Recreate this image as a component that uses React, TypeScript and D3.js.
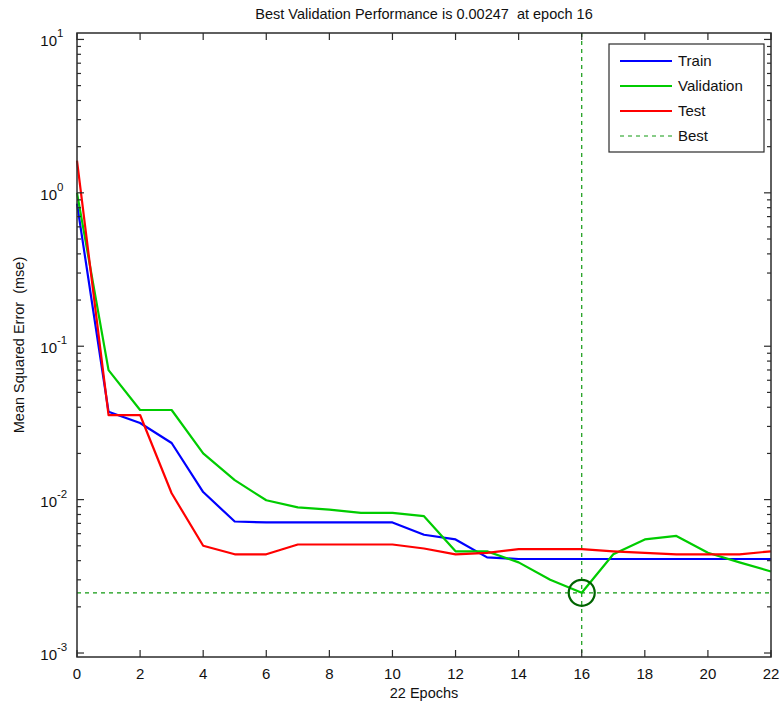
import React from 'react';
import * as d3 from 'd3';

// epochs 0..22
const epochs = d3.range(0, 23);
const trainMse = [0.85, 0.0374, 0.0316, 0.0234, 0.0112, 0.0072, 0.0071, 0.0071, 0.0071, 0.0071, 0.0071,
  0.0059, 0.0055, 0.0042, 0.0041, 0.0041, 0.0041, 0.0041, 0.0041, 0.0041, 0.0041, 0.0041, 0.0041];
const validationMse = [1.0, 0.0698, 0.0384, 0.0384, 0.020, 0.0134, 0.0099, 0.0089, 0.0086, 0.0082, 0.0082,
  0.0078, 0.0046, 0.0046, 0.0039, 0.0030, 0.00247, 0.0044, 0.0055, 0.0058, 0.0045, 0.0039, 0.0034];
const testMse = [1.62, 0.0356, 0.0356, 0.011, 0.0050, 0.0044, 0.0044, 0.0051, 0.0051, 0.0051, 0.0051,
  0.0048, 0.0044, 0.0045, 0.00475, 0.00475, 0.00475, 0.0046, 0.0045, 0.0044, 0.0044, 0.0044, 0.0046];
const bestEpoch = 16;
const bestValue = 0.00247;
const xTicks = [0, 2, 4, 6, 8, 10, 12, 14, 16, 18, 20, 22];
const yDecades = [-3, -2, -1, 0, 1];
const legendItems = ['Train', 'Validation', 'Test', 'Best'];

const W = 783;
const H = 706;
const margin = { left: 77, right: 12, top: 33, bottom: 49 };
const font = '"Liberation Sans", Arial, sans-serif';

const App = () => {
  const x = d3.scaleLinear().domain([0, 22]).range([margin.left, W - margin.right]);
  const y = d3.scaleLog().domain([Math.pow(10, -3.026), Math.pow(10, 1.042)]).range([H - margin.bottom, margin.top]);

  const line = d3.line<number>().x((d, i) => x(epochs[i])).y(d => y(d));

  const series = [
    { name: 'Train', values: trainMse, color: '#0000ff' },
    { name: 'Validation', values: validationMse, color: '#00cc00' },
    { name: 'Test', values: testMse, color: '#ff0000' },
  ];

  // minor ticks on the log axis
  const minor: number[] = [];
  yDecades.forEach(k => {
    for (let m = 2; m <= 9; m++) {
      const v = m * Math.pow(10, k);
      if (v >= y.domain()[0] && v <= y.domain()[1]) minor.push(v);
    }
  });

  const x0 = margin.left;
  const x1 = W - margin.right;
  const y0 = margin.top;
  const y1 = H - margin.bottom;
  const axisColor = '#2b2b2b';
  const textStyle = { whiteSpace: 'pre' as const };

  const legendX = 609;
  const legendY = 44;

  return (
    <div style={{ position: 'absolute', left: 0, top: 0 }}>
      <svg width={W} height={H} style={{ display: 'block', background: '#fff' }}>
        <text x={(x0 + x1) / 2} y={19} textAnchor="middle" fontFamily={font} fontSize={14.5} fill="#111" style={textStyle}>
          {'Best Validation Performance is 0.00247  at epoch 16'}
        </text>

        {/* best lines */}
        <line x1={x0} x2={x1} y1={y(bestValue)} y2={y(bestValue)} stroke="#119911" strokeWidth={1.2} strokeDasharray="4,4" />
        <line x1={x(bestEpoch)} x2={x(bestEpoch)} y1={y0} y2={y1} stroke="#119911" strokeWidth={1.2} strokeDasharray="4,4" />

        {series.map(s => (
          <path key={s.name} d={line(s.values) || ''} fill="none" stroke={s.color} strokeWidth={2.2} strokeLinejoin="round" />
        ))}

        <circle cx={x(bestEpoch)} cy={y(bestValue)} r={13} fill="none" stroke="#006400" strokeWidth={2.2} />

        {/* box */}
        <rect x={x0} y={y0} width={x1 - x0} height={y1 - y0} fill="none" stroke={axisColor} strokeWidth={1.5} />

        {/* x ticks */}
        {xTicks.map(t => (
          <g key={'x' + t}>
            <line x1={x(t)} x2={x(t)} y1={y1} y2={y1 - 7} stroke={axisColor} strokeWidth={1.2} />
            <line x1={x(t)} x2={x(t)} y1={y0} y2={y0 + 7} stroke={axisColor} strokeWidth={1.2} />
            <text x={x(t)} y={y1 + 22} textAnchor="middle" fontFamily={font} fontSize={15} fill="#111">{t}</text>
          </g>
        ))}

        {/* y ticks */}
        {yDecades.map(k => (
          <g key={'y' + k}>
            <line x1={x0} x2={x0 + 7} y1={y(Math.pow(10, k))} y2={y(Math.pow(10, k))} stroke={axisColor} strokeWidth={1.2} />
            <line x1={x1} x2={x1 - 7} y1={y(Math.pow(10, k))} y2={y(Math.pow(10, k))} stroke={axisColor} strokeWidth={1.2} />
            <text x={57} y={y(Math.pow(10, k)) + 7} textAnchor="end" fontFamily={font} fontSize={15} fill="#111">10</text>
            <text x={57} y={y(Math.pow(10, k)) - 2} textAnchor="start" fontFamily={font} fontSize={11.5} fill="#111">{k}</text>
          </g>
        ))}
        {minor.map(v => (
          <g key={'m' + v}>
            <line x1={x0} x2={x0 + 4} y1={y(v)} y2={y(v)} stroke={axisColor} strokeWidth={1.2} />
            <line x1={x1} x2={x1 - 4} y1={y(v)} y2={y(v)} stroke={axisColor} strokeWidth={1.2} />
          </g>
        ))}

        <text x={(x0 + x1) / 2} y={698} textAnchor="middle" fontFamily={font} fontSize={14.5} fill="#111">22 Epochs</text>
        <text transform={`translate(24,${(y0 + y1) / 2}) rotate(-90)`} textAnchor="middle" fontFamily={font} fontSize={14.5} fill="#111" style={textStyle}>
          {'Mean Squared Error  (mse)'}
        </text>

        {/* legend */}
        <rect x={legendX} y={legendY} width={155} height={108} fill="#fff" stroke={axisColor} strokeWidth={1.2} />
        {legendItems.map((name, i) => {
          const ly = legendY + 17 + i * 25;
          const s = series.find(d => d.name === name);
          return (
            <g key={name}>
              <line x1={legendX + 11} x2={legendX + 63} y1={ly} y2={ly}
                stroke={s ? s.color : '#119911'} strokeWidth={s ? 2.2 : 1.2} strokeDasharray={s ? undefined : '4,4'} />
              <text x={legendX + 69} y={ly + 5} fontFamily={font} fontSize={15} fill="#111">{name}</text>
            </g>
          );
        })}
      </svg>
    </div>
  );
};

export default App;
